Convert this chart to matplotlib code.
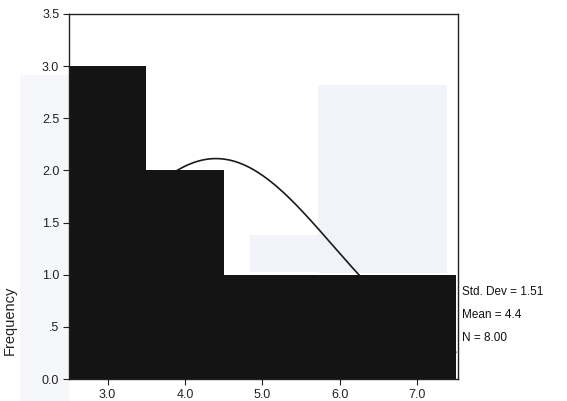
import numpy as np
import matplotlib
matplotlib.use("Agg")
import matplotlib.pyplot as plt
from matplotlib.patches import Rectangle

plt.rcParams['font.family'] = ['Liberation Sans', 'DejaVu Sans']

# Histogram bins (centres) and counts
bin_centers = [3.0, 4.0, 5.0, 6.0, 7.0]
counts = [3, 2, 1, 1, 1]
bin_width = 1.0

# Summary statistics shown beside the plot
std_dev = 1.51
mean = 4.4
n_total = 8.00

x_ticks = [3.0, 4.0, 5.0, 6.0, 7.0]
x_tick_labels = ["3.0", "4.0", "5.0", "6.0", "7.0"]
y_ticks = [0.0, 0.5, 1.0, 1.5, 2.0, 2.5, 3.0, 3.5]
y_tick_labels = ["0.0", ".5", "1.0", "1.5", "2.0", "2.5", "3.0", "3.5"]

fig = plt.figure(figsize=(5.67, 4.01), dpi=100)
fig.patch.set_facecolor("white")

# faint paper tint from the printed page
fig.add_artist(Rectangle((20/567, 0), 49/567, 1 - 75/401, transform=fig.transFigure,
                         facecolor="#f6f7fb", edgecolor="none", zorder=0))

ax = fig.add_axes([69/567, 22/401, 389/567, 365/401])
ax.set_facecolor("white")

ax.add_patch(Rectangle((318/567, 128/401), 129/567, 188/401, transform=fig.transFigure,
                       facecolor="#f1f3fa", edgecolor="none", zorder=0.5))
ax.add_patch(Rectangle((250/567, 129/401), 68/567, 37/401, transform=fig.transFigure,
                       facecolor="#f3f4fa", edgecolor="none", zorder=0.5))

# normal curve sits beneath the bars, so only the part above them shows
xs = np.linspace(2.5, 7.5, 400)
curve = n_total * bin_width / (std_dev * np.sqrt(2 * np.pi)) * np.exp(-0.5 * ((xs - mean) / std_dev) ** 2)
ax.plot(xs, curve, color="#1a1a1a", linewidth=1.2, zorder=1.5)

ax.bar(bin_centers, counts, width=bin_width, color="#141414", edgecolor="none",
       linewidth=0, zorder=2)

ax.set_xlim(2.5, 7.53)
ax.set_ylim(0, 3.5)
ax.set_xticks(x_ticks)
ax.set_xticklabels(x_tick_labels)
ax.set_yticks(y_ticks)
ax.set_yticklabels(y_tick_labels)
ax.tick_params(axis="both", direction="out", length=4, width=0.8, labelsize=9,
               colors="#222222", pad=3)

for s in ax.spines.values():
    s.set_color("#222222")
    s.set_linewidth(1.0)

ax.set_ylabel("Frequency", fontsize=10.5, color="#222222")
ax.yaxis.set_label_coords(-0.135, 0.16)

stats = [f"Std. Dev = {std_dev:.2f}", f"Mean = {mean:.1f}", f"N = {n_total:.2f}"]
for i, t in enumerate(stats):
    fig.text(462/567, 1 - (292 + 23 * i)/401, t, fontsize=8.5, color="#111111",
             va="center", ha="left")

fig.savefig("out.png", dpi=100)
